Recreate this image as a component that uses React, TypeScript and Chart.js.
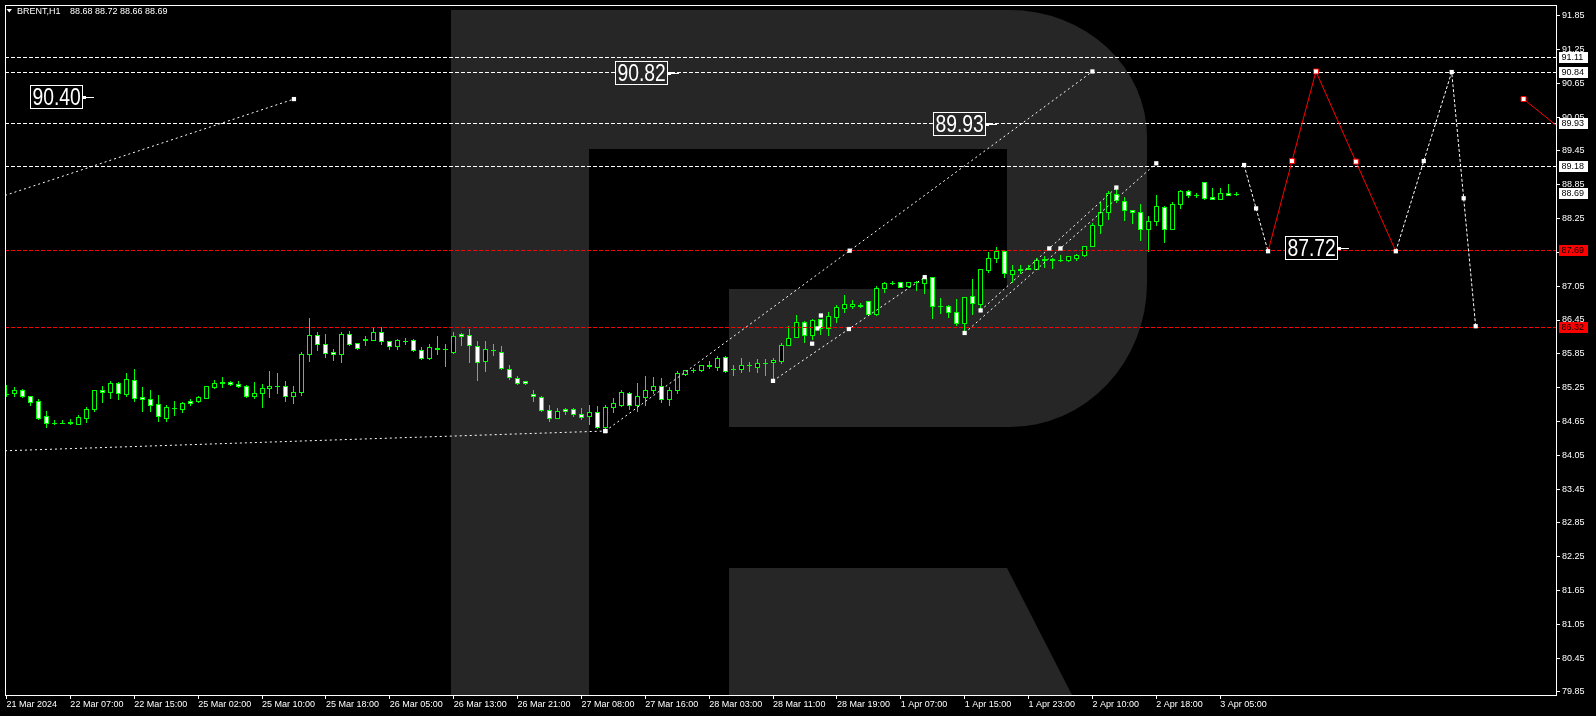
import React, { useEffect, useRef } from 'react';
import { Chart, registerables } from 'chart.js';

Chart.register(...registerables);

// ---------------- data ----------------
const symbolName = 'BRENT,H1';

const opens = [
  85.14, 85.15, 85.21, 85.10, 85.02, 84.75, 84.62, 84.63, 84.62, 84.61,
  84.72, 84.87, 85.21, 85.17, 85.34, 85.13, 85.38, 85.08, 85.05, 84.96,
  84.72, 84.89, 84.87, 85.02, 85.02, 85.06, 85.27, 85.34, 85.35, 85.31,
  85.28, 85.11, 85.15, 85.24, 85.28, 85.28, 85.10, 85.17, 85.84, 86.18,
  86.02, 85.89, 85.84, 86.21, 86.04, 86.10, 86.10, 86.23, 86.07, 85.98,
  86.08, 86.09, 85.91, 85.78, 85.95, 85.93, 85.89, 86.20, 86.18, 85.99,
  85.73, 85.91, 85.88, 85.58, 85.42, 85.37, 85.14, 85.08, 84.85, 84.71,
  84.87, 84.87, 84.78, 84.74, 84.82, 84.55, 84.90, 84.95, 85.15, 84.94,
  85.09, 85.20, 85.28, 85.05, 85.20, 85.50, 85.56, 85.56, 85.64, 85.61,
  85.80, 85.58, 85.58, 85.65, 85.61, 85.69, 85.70, 85.73, 86.01, 86.14,
  86.42, 86.18, 86.46, 86.30, 86.51, 86.67, 86.69, 86.71, 86.78, 86.55,
  87.02, 87.10, 87.12, 87.06, 87.13, 87.11, 87.21, 86.69, 86.69, 86.59,
  86.40, 86.87, 86.74, 87.34, 87.55, 87.67, 87.27, 87.34, 87.36, 87.36,
  87.52, 87.53, 87.52, 87.52, 87.55, 87.60, 87.77, 88.13, 88.37, 88.69,
  88.57, 88.41, 88.36, 88.07, 88.20, 88.46, 88.07, 88.50, 88.74, 88.67,
  88.89, 88.64, 88.60, 88.71, 88.68,
];
const highs = [
  85.30, 85.26, 85.23, 85.11, 85.04, 84.84, 84.68, 84.68, 84.70, 84.77,
  84.90, 85.21, 85.28, 85.36, 85.35, 85.51, 85.58, 85.27, 85.21, 85.12,
  84.95, 85.02, 85.00, 85.04, 85.11, 85.28, 85.38, 85.43, 85.36, 85.37,
  85.30, 85.35, 85.31, 85.55, 85.51, 85.37, 85.28, 85.88, 86.49, 86.23,
  86.20, 85.94, 86.24, 86.25, 86.04, 86.17, 86.31, 86.33, 86.07, 86.12,
  86.13, 86.11, 85.97, 86.03, 86.17, 86.03, 86.24, 86.22, 86.29, 86.08,
  86.08, 86.03, 85.99, 85.65, 85.45, 85.37, 85.20, 85.10, 84.95, 84.88,
  84.89, 84.88, 84.88, 84.95, 84.92, 84.94, 85.07, 85.21, 85.18, 85.34,
  85.45, 85.44, 85.42, 85.27, 85.54, 85.57, 85.59, 85.66, 85.73, 85.81,
  85.81, 85.65, 85.77, 85.71, 85.76, 85.76, 85.77, 86.04, 86.35, 86.54,
  86.43, 86.47, 86.47, 86.59, 86.71, 86.89, 86.80, 86.75, 86.79, 87.05,
  87.13, 87.14, 87.12, 87.13, 87.14, 87.24, 87.21, 86.84, 86.72, 86.82,
  86.85, 87.18, 87.36, 87.65, 87.74, 87.68, 87.42, 87.42, 87.42, 87.55,
  87.58, 87.55, 87.60, 87.58, 87.62, 87.77, 88.18, 88.55, 88.74, 88.77,
  88.64, 88.41, 88.50, 88.30, 88.67, 88.48, 88.55, 88.76, 88.76, 88.70,
  88.90, 88.79, 88.79, 88.87, 88.72,
];
const lows = [
  85.11, 85.11, 85.09, 84.95, 84.70, 84.56, 84.60, 84.62, 84.60, 84.60,
  84.64, 84.83, 84.99, 85.06, 85.04, 85.11, 85.01, 84.83, 84.83, 84.65,
  84.65, 84.76, 84.81, 84.95, 84.99, 85.06, 85.24, 85.27, 85.29, 85.27,
  85.09, 85.06, 84.90, 85.09, 85.16, 85.02, 84.97, 85.12, 85.73, 85.92,
  85.80, 85.74, 85.71, 86.01, 85.94, 86.01, 86.10, 86.03, 85.94, 85.94,
  86.03, 85.90, 85.76, 85.76, 85.85, 85.64, 85.87, 86.01, 85.71, 85.38,
  85.55, 85.83, 85.58, 85.41, 85.31, 85.32, 85.01, 84.83, 84.65, 84.71,
  84.79, 84.75, 84.69, 84.61, 84.53, 84.53, 84.81, 84.92, 84.87, 84.84,
  84.94, 85.15, 85.00, 84.95, 85.16, 85.47, 85.53, 85.55, 85.60, 85.57,
  85.53, 85.48, 85.52, 85.55, 85.53, 85.48, 85.37, 85.68, 86.00, 86.14,
  86.06, 86.12, 86.21, 86.18, 86.42, 86.60, 86.67, 86.68, 86.53, 86.53,
  86.95, 87.08, 87.04, 87.04, 86.99, 86.93, 86.49, 86.58, 86.50, 86.36,
  86.22, 86.55, 86.65, 87.30, 87.48, 87.22, 87.12, 87.29, 87.35, 87.36,
  87.39, 87.37, 87.50, 87.50, 87.52, 87.59, 87.77, 88.00, 88.24, 88.55,
  88.23, 88.18, 87.87, 87.67, 88.13, 87.84, 88.07, 88.44, 88.64, 88.64,
  88.60, 88.59, 88.59, 88.66, 88.66,
];
const closes = [
  85.13, 85.21, 85.10, 84.99, 84.72, 84.62, 84.63, 84.63, 84.64, 84.73,
  84.87, 85.21, 85.17, 85.34, 85.15, 85.40, 85.06, 85.04, 84.95, 84.74,
  84.91, 84.88, 84.98, 84.98, 85.08, 85.28, 85.34, 85.35, 85.31, 85.28,
  85.11, 85.15, 85.24, 85.28, 85.28, 85.10, 85.17, 85.84, 86.18, 86.03,
  85.87, 85.84, 86.21, 86.03, 85.95, 86.11, 86.23, 86.07, 85.99, 86.09,
  86.08, 85.91, 85.78, 85.97, 85.94, 85.93, 86.17, 86.16, 86.00, 85.71,
  85.93, 85.91, 85.59, 85.43, 85.34, 85.33, 85.10, 84.85, 84.71, 84.84,
  84.84, 84.78, 84.73, 84.82, 84.55, 84.91, 84.98, 85.18, 84.95, 85.10,
  85.21, 85.28, 85.05, 85.21, 85.51, 85.56, 85.56, 85.65, 85.65, 85.78,
  85.54, 85.58, 85.65, 85.65, 85.69, 85.69, 85.74, 86.01, 86.13, 86.42,
  86.18, 86.45, 86.31, 86.52, 86.68, 86.73, 86.73, 86.70, 86.55, 87.02,
  87.11, 87.11, 87.04, 87.12, 87.13, 87.19, 86.69, 86.69, 86.60, 86.40,
  86.85, 86.76, 87.36, 87.55, 87.67, 87.29, 87.34, 87.36, 87.38, 87.52,
  87.53, 87.52, 87.52, 87.58, 87.60, 87.77, 88.14, 88.37, 88.71, 88.58,
  88.40, 88.37, 88.07, 88.20, 88.48, 88.07, 88.51, 88.74, 88.67, 88.67,
  88.62, 88.60, 88.71, 88.67, 88.69,
];

// time axis: bar index of each labelled tick and its text
const xTickBars = [0, 8, 16, 24, 32, 40, 48, 56, 64, 72, 80, 88, 96, 104, 112, 120, 128, 136, 144, 152];
const xTickLabels = [
  '21 Mar 2024', '22 Mar 07:00', '22 Mar 15:00', '25 Mar 02:00', '25 Mar 10:00',
  '25 Mar 18:00', '26 Mar 05:00', '26 Mar 13:00', '26 Mar 21:00', '27 Mar 08:00',
  '27 Mar 16:00', '28 Mar 03:00', '28 Mar 11:00', '28 Mar 19:00', '1 Apr 07:00',
  '1 Apr 15:00', '1 Apr 23:00', '2 Apr 10:00', '2 Apr 18:00', '3 Apr 05:00',
];
const yTickValues = [
  91.85, 91.25, 90.65, 90.05, 89.45, 88.85, 88.25, 87.65, 87.05, 86.45,
  85.85, 85.25, 84.65, 84.05, 83.45, 82.85, 82.25, 81.65, 81.05, 80.45, 79.85,
];

// horizontal levels
const whiteLevels = [91.11, 90.84, 89.93, 89.18];
const redLevels = [87.69, 86.32];

// boxed price notes (pointer tip bar, pointer level)
const noteTexts = ['90.40', '90.82', '89.93', '87.72'];
const noteBars = [10.9, 84.2, 124.1, 168.1];
const noteValues = [90.40, 90.84, 89.93, 87.72];

// trend / forecast lines (bar index, price)
const trend1Bars = [-0.19, 36];
const trend1Vals = [88.66, 90.37];
const trend2Bars = [-0.19, 75];
const trend2Vals = [84.13, 84.48];
const trend3Bars = [75, 105.6, 136];
const trend3Vals = [84.48, 87.68, 90.86];
const trend4Bars = [96, 105.5, 115];
const trend4Vals = [85.37, 86.29, 87.21];
const markBars = [100.9, 101.55, 102];
const markVals = [86.03, 86.30, 86.53];
const trend6Bars = [120, 132, 144];
const trend6Vals = [86.22, 87.72, 89.23];
const trend7Bars = [122, 130.6, 139];
const trend7Vals = [86.62, 87.72, 88.80];
const fcast1Bars = [155, 156.5, 158];
const fcast1Vals = [89.20, 88.43, 87.67];
const fcastRedBars = [158, 161, 164, 169, 174];
const fcastRedVals = [87.67, 89.27, 90.86, 89.26, 87.67];
const fcast2Bars = [174, 177.5, 181, 182.5, 184];
const fcast2Vals = [87.67, 89.27, 90.85, 88.61, 86.34];
const fcastRed2Bars = [190, 200];
const fcastRed2Vals = [90.37, 89.23];

// ---------------- styling ----------------
const FONT = '"Liberation Sans", Arial, sans-serif';
const LIME = '#00ff00';
const WHITE = '#ffffff';
const RED = '#ff0000';
const LOGO = '#262626';
const DOT = [2, 3];
const DASH = [3, 2];

const pts = (bars: number[], vals: number[]) => bars.map((b, k) => ({ x: b, y: vals[k] }));

function whiteLine(bars: number[], vals: number[], dash: number[], radii: number[], showLine = true) {
  return {
    type: 'line',
    data: pts(bars, vals),
    borderColor: WHITE,
    borderWidth: 1,
    borderDash: dash,
    showLine,
    pointStyle: 'rect',
    pointRadius: radii,
    pointBackgroundColor: WHITE,
    pointBorderWidth: 0,
    tension: 0,
    fill: false,
  };
}
function redLine(bars: number[], vals: number[], radii: number[]) {
  return {
    type: 'line',
    data: pts(bars, vals),
    borderColor: RED,
    borderWidth: 1,
    pointStyle: 'rect',
    pointRadius: radii,
    pointBackgroundColor: WHITE,
    pointBorderColor: RED,
    pointBorderWidth: 1,
    tension: 0,
    fill: false,
  };
}

function drawLogo(ctx: CanvasRenderingContext2D, area: any) {
  const b = area.bottom;
  ctx.save();
  ctx.fillStyle = LOGO;
  ctx.beginPath();
  ctx.moveTo(451, 10);
  ctx.lineTo(1010, 10);
  ctx.ellipse(1010, 137, 137, 127, 0, -Math.PI / 2, 0);
  ctx.lineTo(1147, 283);
  ctx.ellipse(1010, 283, 137, 144, 0, 0, Math.PI / 2);
  ctx.lineTo(729, 427);
  ctx.lineTo(729, 289);
  ctx.lineTo(1007, 289);
  ctx.lineTo(1007, 149);
  ctx.lineTo(589, 149);
  ctx.lineTo(589, b);
  ctx.lineTo(451, b);
  ctx.closePath();
  ctx.fill();
  ctx.beginPath();
  ctx.moveTo(729, 568);
  ctx.lineTo(1007, 568);
  ctx.lineTo(1072.5, b);
  ctx.lineTo(729, b);
  ctx.closePath();
  ctx.fill();
  ctx.restore();
}

const mtPlugin = {
  id: 'mt4look',
  beforeDraw(chart: any) {
    const { ctx, chartArea } = chart;
    ctx.save();
    ctx.fillStyle = '#000';
    ctx.fillRect(0, 0, chart.width, chart.height);
    ctx.restore();
    drawLogo(ctx, chartArea);
  },
  beforeDatasetsDraw(chart: any) {
    const { ctx, chartArea, scales } = chart;
    const x = scales.x, y = scales.y;
    ctx.save();
    ctx.beginPath();
    ctx.rect(chartArea.left, chartArea.top, chartArea.right - chartArea.left, chartArea.bottom - chartArea.top);
    ctx.clip();
    // candles
    for (let i = 0; i < opens.length; i++) {
      const xc = Math.floor(x.getPixelForValue(i));
      const yh = Math.round(y.getPixelForValue(highs[i]));
      const yl = Math.round(y.getPixelForValue(lows[i]));
      const top = Math.round(y.getPixelForValue(Math.max(opens[i], closes[i])));
      const bot = Math.round(y.getPixelForValue(Math.min(opens[i], closes[i])));
      ctx.fillStyle = LIME;
      ctx.fillRect(xc, yh, 1, Math.max(1, yl - yh + 1));
      if (bot - top < 1) {
        ctx.fillRect(xc - 2, top, 5, 1);
      } else {
        ctx.fillRect(xc - 2, top, 5, bot - top + 1);
        if (bot - top >= 2) {
          ctx.fillStyle = closes[i] < opens[i] ? WHITE : '#000';
          ctx.fillRect(xc - 1, top + 1, 3, bot - top - 1);
        }
      }
    }
    // horizontal levels
    ctx.lineWidth = 1;
    ctx.setLineDash([4, 2]);
    const level = (v: number, color: string) => {
      const py = Math.floor(y.getPixelForValue(v)) + 0.5;
      ctx.strokeStyle = color;
      ctx.beginPath();
      ctx.moveTo(chartArea.left, py);
      ctx.lineTo(chartArea.right, py);
      ctx.stroke();
    };
    whiteLevels.forEach((v) => level(v, WHITE));
    redLevels.forEach((v) => level(v, RED));
    ctx.restore();
  },
  afterDatasetsDraw(chart: any) {
    const { ctx, scales } = chart;
    const x = scales.x, y = scales.y;
    const dpr = chart.currentDevicePixelRatio || 1;
    const scaleX = 0.84;
    noteTexts.forEach((text, k) => {
      const tip = Math.round(x.getPixelForValue(noteBars[k]));
      const py = Math.round(y.getPixelForValue(noteValues[k]));
      ctx.save();
      ctx.font = '23px ' + FONT;
      const tw = ctx.measureText(text).width * scaleX;
      const boxRight = tip - 11;
      const bw = Math.round(tw + 5);
      const bh = 24;
      const bx = boxRight - bw;
      const by = py - 12;
      const d = ctx.getImageData(Math.round((bx + 3) * dpr), Math.round((by + 3) * dpr), 1, 1).data;
      ctx.fillStyle = `rgb(${d[0]},${d[1]},${d[2]})`;
      ctx.fillRect(bx, by, bw, bh);
      ctx.strokeStyle = WHITE;
      ctx.lineWidth = 1;
      ctx.strokeRect(bx + 0.5, by + 0.5, bw - 1, bh - 1);
      ctx.fillStyle = WHITE;
      ctx.translate(bx + 2.5, by + 20);
      ctx.scale(scaleX, 1);
      ctx.textBaseline = 'alphabetic';
      ctx.fillText(text, 0, 0);
      ctx.restore();
      ctx.save();
      ctx.fillStyle = WHITE;
      ctx.fillRect(boxRight, py - 1, 3, 3);
      ctx.fillRect(boxRight + 3, py, tip - boxRight - 3, 1);
      ctx.restore();
    });
  },
  afterDraw(chart: any) {
    const { ctx, chartArea, scales } = chart;
    const y = scales.y;
    ctx.save();
    // frame
    ctx.strokeStyle = WHITE;
    ctx.lineWidth = 1;
    ctx.setLineDash([]);
    ctx.strokeRect(chartArea.left + 0.5, chartArea.top + 0.5, chartArea.right - chartArea.left - 1, chartArea.bottom - chartArea.top - 1);
    // price boxes on the axis
    ctx.font = '9px ' + FONT;
    ctx.textBaseline = 'middle';
    const box = (v: number, bg: string, fg: string) => {
      const py = Math.floor(y.getPixelForValue(v));
      ctx.fillStyle = bg;
      ctx.fillRect(chartArea.right + 2, py - 5, 29, 11);
      ctx.fillStyle = fg;
      ctx.fillText(v.toFixed(2), chartArea.right + 4.5, py + 0.5);
    };
    whiteLevels.forEach((v) => box(v, WHITE, '#000'));
    box(closes[closes.length - 1], WHITE, '#000');
    redLevels.forEach((v) => box(v, RED, '#000'));
    // title
    const n = opens.length - 1;
    ctx.fillStyle = WHITE;
    ctx.beginPath();
    ctx.moveTo(6.5, 9);
    ctx.lineTo(12, 9);
    ctx.lineTo(9.25, 12.5);
    ctx.closePath();
    ctx.fill();
    ctx.textBaseline = 'alphabetic';
    ctx.fillText(symbolName, 17, 13.5);
    ctx.fillText(
      `${opens[n].toFixed(2)} ${highs[n].toFixed(2)} ${lows[n].toFixed(2)} ${closes[n].toFixed(2)}`,
      70, 13.5
    );
    ctx.restore();
  },
};

export default function App() {
  const ref = useRef<HTMLCanvasElement>(null);
  useEffect(() => {
    document.body.style.margin = '0';
    document.body.style.background = '#000';
    const canvas = ref.current as HTMLCanvasElement;
    const tickFont = { family: FONT, size: 9 };
    const chart = new Chart(canvas, {
      type: 'line',
      data: {
        datasets: [
          whiteLine(fcast1Bars, fcast1Vals, DASH, [3, 3, 3]),
          whiteLine(fcast2Bars, fcast2Vals, DASH, [3, 3, 3, 3, 3]),
          whiteLine(trend3Bars, trend3Vals, DOT, [3, 3, 3]),
          whiteLine(trend1Bars, trend1Vals, DOT, [0, 3]),
          whiteLine(trend2Bars, trend2Vals, DOT, [0, 3]),
          whiteLine(trend4Bars, trend4Vals, DOT, [3, 3, 3]),
          whiteLine(markBars, markVals, DOT, [3, 3, 3], false),
          whiteLine(trend6Bars, trend6Vals, DOT, [3, 3, 3]),
          whiteLine(trend7Bars, trend7Vals, DOT, [3, 3, 3]),
          redLine(fcastRedBars, fcastRedVals, [0, 3.5, 3.5, 3.5, 0]),
          redLine(fcastRed2Bars, fcastRed2Vals, [3.5, 0]),
        ] as any,
      },
      options: {
        responsive: false,
        maintainAspectRatio: false,
        animation: false,
        events: [],
        layout: { padding: { left: 2, top: 2, right: 0, bottom: 0 } },
        plugins: { legend: { display: false }, tooltip: { enabled: false } },
        scales: {
          x: {
            type: 'linear',
            position: 'bottom',
            min: -0.1875,
            max: 194.1875,
            afterBuildTicks: (s: any) => {
              s.ticks = xTickBars.map((v) => ({ value: v }));
            },
            afterFit: (s: any) => {
              s.height = 20;
              s.paddingLeft = 0;
              s.paddingRight = 0;
            },
            ticks: {
              color: WHITE,
              font: tickFont,
              padding: 0,
              align: 'start',
              maxRotation: 0,
              minRotation: 0,
              autoSkip: false,
              callback: (_v: any, idx: number) => xTickLabels[idx],
            },
            grid: { display: true, drawOnChartArea: false, drawTicks: true, tickLength: 3, color: WHITE },
            border: { display: false },
          },
          y: {
            type: 'linear',
            position: 'right',
            min: 79.779,
            max: 92.039,
            afterBuildTicks: (s: any) => {
              s.ticks = yTickValues.map((v) => ({ value: v }));
            },
            afterFit: (s: any) => {
              s.width = 39;
              s.paddingTop = 0;
              s.paddingBottom = 0;
            },
            ticks: {
              color: WHITE,
              font: tickFont,
              padding: 2,
              autoSkip: false,
              callback: (v: any) => Number(v).toFixed(2),
            },
            grid: { display: true, drawOnChartArea: false, drawTicks: true, tickLength: 3, color: WHITE },
            border: { display: false },
          },
        },
      } as any,
      plugins: [mtPlugin as any],
    });
    return () => chart.destroy();
  }, []);
  return (
    <div style={{ width: 1596, height: 716, background: '#000' }}>
      <canvas ref={ref} width={1596} height={716} style={{ display: 'block', width: 1596, height: 716 }} />
    </div>
  );
}
